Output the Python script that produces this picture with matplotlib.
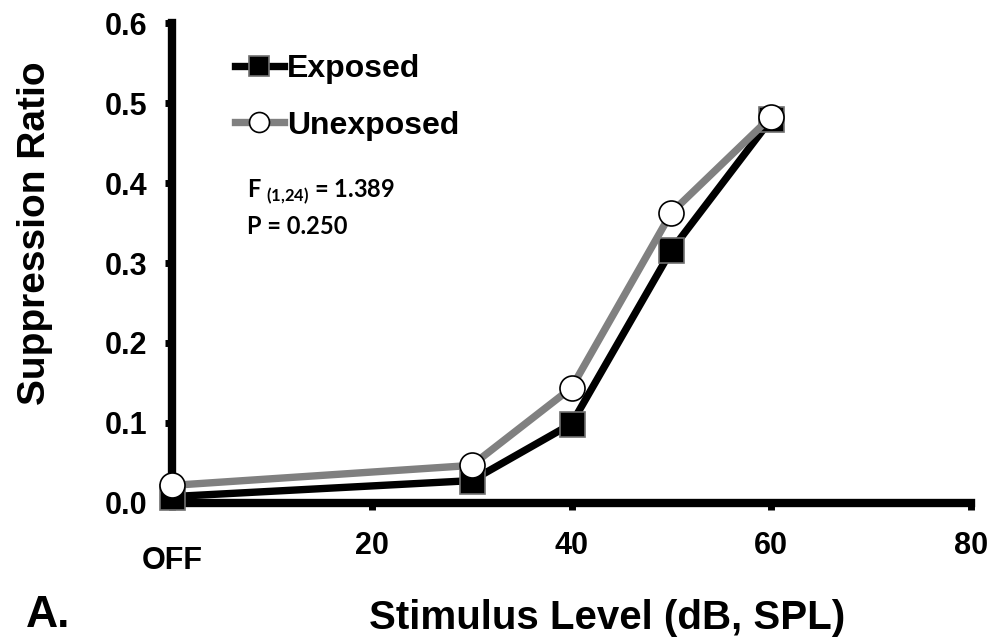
import numpy as np
import matplotlib.pyplot as plt

levels = [0, 30, 40, 50, 60]
exposed = [0.008, 0.028, 0.099, 0.316, 0.480]
unexposed = [0.022, 0.047, 0.144, 0.363, 0.483]
xticks = [0, 20, 40, 60, 80]
xticklabels = ['', '20', '40', '60', '80']
yticks = [0.0, 0.1, 0.2, 0.3, 0.4, 0.5, 0.6]

plt.rcParams['font.family'] = ['Liberation Sans', 'DejaVu Sans']
plt.rcParams['font.weight'] = 'bold'
plt.rcParams['mathtext.fontset'] = 'custom'
plt.rcParams['mathtext.rm'] = 'Lato'
plt.rcParams['mathtext.bf'] = 'Lato:bold'

fig = plt.figure(figsize=(9.95, 6.41), dpi=100)
ax = fig.add_axes([0.1729, 0.2153, 0.8030, 0.7488])

ax.plot(levels, exposed, color='black', lw=5.3, marker='s', ms=18,
        mfc='black', mec='#707070', mew=1.2, clip_on=False, zorder=3,
        label='Exposed')
ax.plot(levels, unexposed, color='#808080', lw=5.3, marker='o', ms=18,
        mfc='white', mec='black', mew=1.2, clip_on=False, zorder=4,
        label='Unexposed')

ax.set_xlim(0, 80)
ax.set_ylim(0, 0.6)
for s in ['top', 'right']:
    ax.spines[s].set_visible(False)
for s in ['left', 'bottom']:
    ax.spines[s].set_linewidth(6)
    ax.spines[s].set_capstyle('projecting')

ax.set_xticks(xticks)
ax.set_xticklabels(xticklabels)
ax.set_yticks(yticks)
ax.set_yticklabels([f'{v:.1f}' for v in yticks])
ax.tick_params(axis='both', direction='out', length=5, width=5,
               labelsize=22, pad=13)
ax.tick_params(axis='x', pad=15)
ax.text(0, -0.072, 'OFF', transform=ax.transData, ha='center', va='center',
        fontsize=22, fontweight='bold')

fig.text(0.035, 0.636, 'Suppression Ratio', rotation=90, ha='center',
         va='center', fontsize=28, fontweight='bold')
fig.text(0.610, 0.018, 'Stimulus Level (dB, SPL)', ha='center',
         va='baseline', fontsize=29, fontweight='bold')
fig.text(0.026, 0.022, 'A.', ha='left', va='baseline', fontsize=32,
         fontweight='bold')

leg = fig.legend(*ax.get_legend_handles_labels(), loc='upper left',
                 bbox_to_anchor=(0.236, 0.915), frameon=False,
                 fontsize=23, handlelength=1.53, handletextpad=0.1,
                 labelspacing=0.82, markerscale=0.8, borderpad=0,
                 borderaxespad=0)

ax.text(0.094, 0.648, r'F $_{\mathbf{(1{,}24)}}$ = 1.389',
        transform=ax.transAxes, fontsize=17, fontweight='bold',
        family='Lato', va='center')
ax.text(0.094, 0.577, 'P = 0.250', transform=ax.transAxes,
        fontsize=17, fontweight='bold', family='Lato', va='center')

fig.savefig('out.png', dpi=100)
